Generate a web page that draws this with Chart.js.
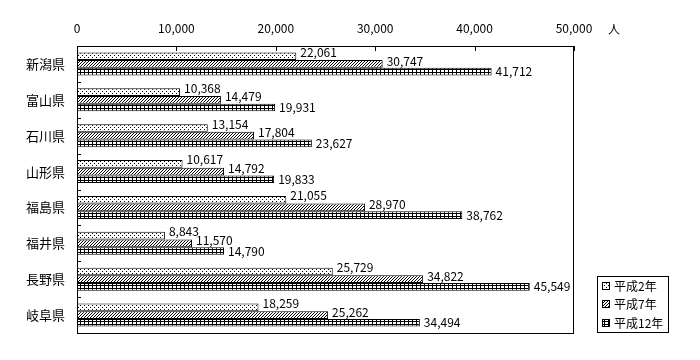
<!DOCTYPE html>
<html><head><meta charset="utf-8">
<script src="https://cdn.jsdelivr.net/npm/chart.js@4/dist/chart.umd.min.js"></script>
<style>html,body{margin:0;padding:0;background:#fff}canvas{display:block}</style>
</head><body>
<canvas id="c" width="700" height="360"></canvas>
<script>
const categories = ["新潟県","富山県","石川県","山形県","福島県","福井県","長野県","岐阜県"];
const seriesNames = ["平成2年","平成7年","平成12年"];
const h2 = [22061,10368,13154,10617,21055,8843,25729,18259];
const h7 = [30747,14479,17804,14792,28970,11570,34822,25262];
const h12 = [41712,19931,23627,19833,38762,14790,45549,34494];
const xTicks = [0,10000,20000,30000,40000,50000];
const unitLabel = "人";

const FONT = "'Noto Sans CJK JP', sans-serif";

function makePattern(kind){
  const t = document.createElement('canvas');
  let w=4,h=4;
  if(kind==='grid'){w=4;h=3;}
  if(kind==='hatch'){w=3;h=3;}
  t.width=w; t.height=h;
  const g = t.getContext('2d');
  g.fillStyle='#fff'; g.fillRect(0,0,w,h);
  g.fillStyle='#000';
  if(kind==='dots'){ g.fillRect(0,1,1,1); g.fillRect(2,3,1,1); }
  else if(kind==='hatch'){ for(let i=0;i<3;i++) g.fillRect(i,2-i,1,1); }
  else { g.fillRect(0,0,w,1); g.fillRect(0,0,1,h); }
  return document.getElementById('c').getContext('2d').createPattern(t,'repeat');
}
const patterns = [makePattern('dots'), makePattern('hatch'), makePattern('grid')];
const labelYOffset = [-4,-3,0];

const framePlugin = {
  id:'frame',
  afterDatasetsDraw(chart){
    const ctx = chart.ctx, a = chart.chartArea;
    ctx.save();
    ctx.font = "12px " + FONT; ctx.fillStyle='#000'; ctx.textBaseline='middle'; ctx.textAlign='left';
    chart.data.datasets.forEach((ds,di)=>{
      chart.getDatasetMeta(di).data.forEach((el,i)=>{
        ctx.fillText(ds.data[i].toLocaleString('en-US'), el.x+4, el.y+labelYOffset[di]);
      });
    });
    ctx.strokeStyle='#000'; ctx.lineWidth=1;
    ctx.strokeRect(Math.round(a.left)+0.5, Math.round(a.top)+0.5, Math.round(a.right-a.left)-1, Math.round(a.bottom-a.top));
    const xs = chart.scales.x;
    ctx.beginPath();
    xTicks.forEach(v=>{ const x=Math.round(xs.getPixelForValue(v))+0.5; ctx.moveTo(x,a.top); ctx.lineTo(x,a.top+5); });
    const n = categories.length, step=(a.bottom-a.top)/n;
    for(let i=1;i<n;i++){ const y=Math.round(a.top+step*i)+0.5; ctx.moveTo(a.left,y); ctx.lineTo(a.left+4,y); }
    ctx.stroke();
    ctx.font = "12px " + FONT; ctx.textBaseline='middle'; ctx.textAlign='left';
    ctx.fillText(unitLabel, 608, 29);
    const lx=597, ly=276, lw=71, lh=56;
    ctx.strokeRect(lx+0.5, ly+0.5, lw, lh);
    const rows=[286,304,323];
    seriesNames.forEach((nm,i)=>{
      ctx.fillStyle=patterns[i]; ctx.fillRect(602,rows[i]-4,8,8);
      ctx.strokeRect(602.5,rows[i]-3.5,7,7);
      ctx.fillStyle='#000'; ctx.font="12px "+FONT; ctx.fillText(nm,614,rows[i]);
    });
    ctx.restore();
  }
};

new Chart(document.getElementById('c'),{
  type:'bar',
  data:{
    labels:categories,
    datasets:[h2,h7,h12].map((d,i)=>({
      label:seriesNames[i], data:d, backgroundColor:patterns[i],
      borderColor:'#000', borderWidth:1, borderSkipped:false,
      categoryPercentage:0.64, barPercentage:1.0
    }))
  },
  options:{
    indexAxis:'y', responsive:false, animation:false,
    layout:{padding:{left:0,top:0,right:126,bottom:27}},
    plugins:{legend:{display:false}, tooltip:{enabled:false}},
    scales:{
      x:{position:'top', min:0, max:50000,
         afterFit(s){ s.height=46; },
         afterBuildTicks(s){ s.ticks = xTicks.map(v=>({value:v})); },
         grid:{display:false, drawTicks:false}, border:{display:false},
         ticks:{padding:10, color:'#000', font:{family:FONT,size:12}, maxRotation:0,
                callback:v=>v.toLocaleString('en-US')}},
      y:{afterFit(s){ s.width=77; },
         grid:{display:false, drawTicks:false}, border:{display:false},
         ticks:{padding:12, color:'#000', font:{family:FONT,size:13}}}
    }
  },
  plugins:[framePlugin]
});
</script>
</body></html>
